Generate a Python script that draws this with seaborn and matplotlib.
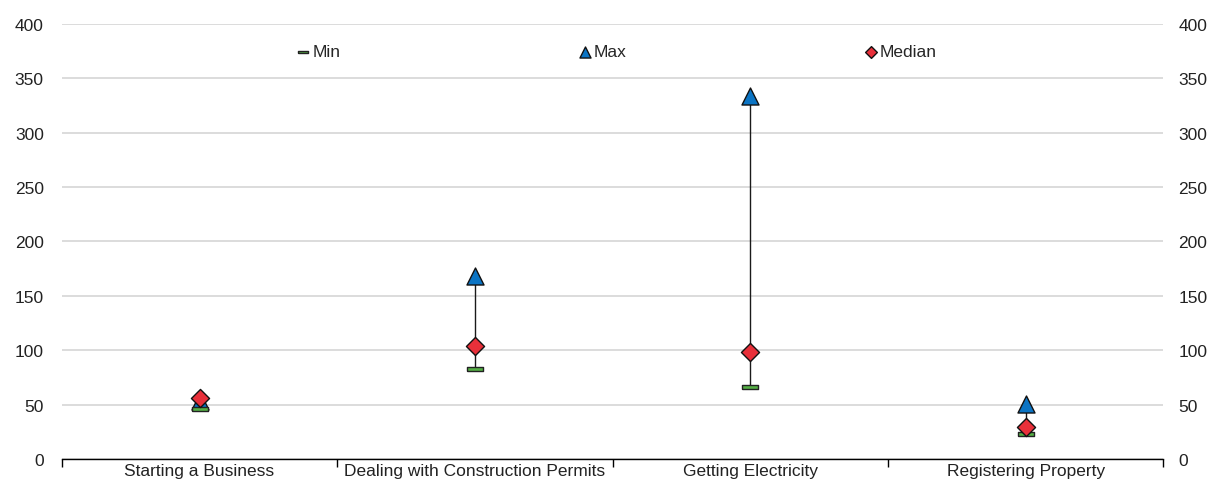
import matplotlib
matplotlib.use("Agg")
import matplotlib.pyplot as plt
import seaborn as sns
import pandas as pd
import numpy as np

categories = ["Starting a Business", "Dealing with Construction Permits",
              "Getting Electricity", "Registering Property"]
min_vals = [46, 83, 66, 23]
max_vals = [53, 168, 334, 51]
median_vals = [56, 104, 98, 29]
y_ticks = [0, 50, 100, 150, 200, 250, 300, 350, 400]

sns.set_theme(style="white")
plt.rcParams["font.family"] = ["Liberation Sans", "DejaVu Sans"]

df = pd.DataFrame({"category": categories, "Min": min_vals,
                   "Max": max_vals, "Median": median_vals})
df["pos"] = np.arange(len(categories))

fig = plt.figure(figsize=(12.13, 4.89), dpi=100)
ax = fig.add_axes([0.051, 0.0593, 0.908, 0.8897])

# min-max range line
ax.vlines(df["pos"], df["Min"], df["Max"], color="#1a1a1a", lw=1.0, zorder=2)

bar_marker = [(-1, -0.25), (1, -0.25), (1, 0.25), (-1, 0.25), (-1, -0.25)]

sns.scatterplot(data=df, x="pos", y="Max", marker="^", s=150, color="#0b74c4",
                edgecolor="#111111", linewidth=1.0, ax=ax, zorder=3, label="Max")
sns.scatterplot(data=df, x="pos", y="Min", marker=bar_marker, s=145, color="#55b046",
                edgecolor="#222222", linewidth=1.0, ax=ax, zorder=4, label="Min")
sns.scatterplot(data=df, x="pos", y="Median", marker="D", s=85, color="#e8303a",
                edgecolor="#111111", linewidth=1.0, ax=ax, zorder=5, label="Median")

ax.set_xlim(-0.5, 3.5)
ax.set_ylim(0, 400)
ax.set_yticks(y_ticks)
ax.yaxis.grid(True, color="#d6d6d6", lw=1.2)
ax.set_axisbelow(True)
for s in ["top", "left", "right"]:
    ax.spines[s].set_visible(False)
ax.spines["bottom"].set_color("black")
ax.spines["bottom"].set_linewidth(1.0)

ax.set_xticks([-0.5, 0.5, 1.5, 2.5, 3.5])
ax.set_xticklabels([])
ax.set_xticks(df["pos"], minor=True)
ax.set_xticklabels(categories, minor=True)
ax.tick_params(axis="x", which="major", direction="out", length=6, width=1, color="black", bottom=True)
ax.tick_params(axis="x", which="minor", length=0, pad=3, labelsize=12.5)
ax.tick_params(axis="y", length=0, labelsize=12.5, pad=13)
ax.set_xlabel("")
ax.set_ylabel("")

# right-hand axis labels
ax2 = ax.twinx()
ax2.set_ylim(0, 400)
ax2.set_yticks(y_ticks)
ax2.tick_params(axis="y", length=0, labelsize=12.5, pad=11)
for s in ["top", "left", "right", "bottom"]:
    ax2.spines[s].set_visible(False)
ax2.grid(False)

for lbl in ax.get_yticklabels() + ax2.get_yticklabels() + ax.get_xticklabels(minor=True):
    lbl.set_color("#222222")

handles, labels = ax.get_legend_handles_labels()
order = [labels.index(n) for n in ["Min", "Max", "Median"]]
leg = ax.legend([handles[i] for i in order], [labels[i] for i in order],
                loc="upper center", bbox_to_anchor=(0.503, 0.99), ncol=3,
                frameon=False, fontsize=12.5, handletextpad=0.0, columnspacing=13.6,
                markerscale=0.65, handlelength=1.0)

fig.savefig("out.png", dpi=100)
